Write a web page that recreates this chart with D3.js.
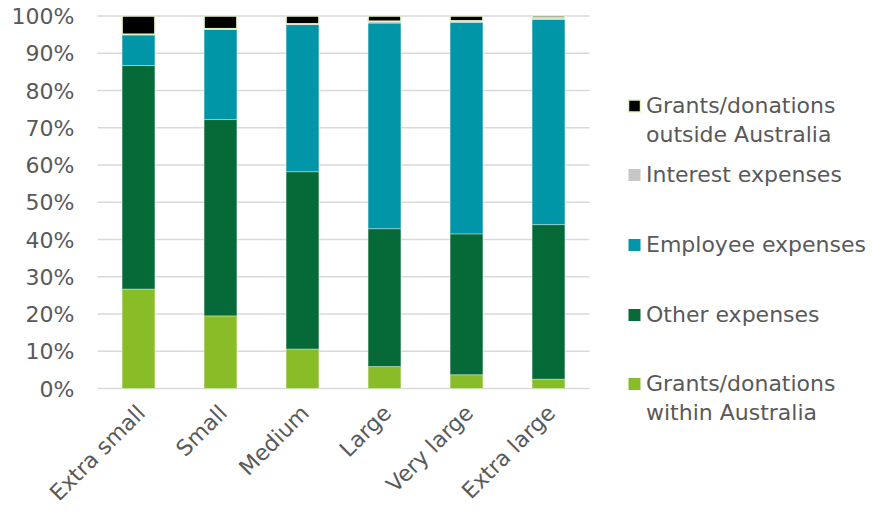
<!DOCTYPE html>
<html>
<head>
<meta charset="utf-8">
<script src="https://cdn.jsdelivr.net/npm/d3@7"></script>
<style>
  html, body { margin: 0; padding: 0; background: #ffffff; }
  svg { display: block; }
  text { font-family: "DejaVu Sans", Verdana, sans-serif; fill: #595959; }
</style>
</head>
<body>
<svg id="chart" width="872" height="512"></svg>
<script>
// Share of total expenses by charity size (percent)
const categories = ["Extra small", "Small", "Medium", "Large", "Very large", "Extra large"];
const grantsWithin  = [26.7, 19.5, 10.6, 5.9, 3.7, 2.5];
const otherExp      = [60.0, 52.7, 47.6, 37.0, 37.8, 41.5];
const employeeExp   = [8.2, 24.2, 39.5, 55.2, 56.8, 55.1];
const interestExp   = [0.2, 0.2, 0.2, 0.5, 0.4, 0.4];
const grantsOutside = [4.9, 3.4, 2.1, 1.4, 1.3, 0.5];
const yTicks = [0, 10, 20, 30, 40, 50, 60, 70, 80, 90, 100];

const seriesNames = [
  "Grants/donations within Australia",
  "Other expenses",
  "Employee expenses",
  "Interest expenses",
  "Grants/donations outside Australia"
];
const seriesValues = [grantsWithin, otherExp, employeeExp, interestExp, grantsOutside];
const colors = ["#89bd28", "#056a38", "#0096a8", "#c6c7c9", "#000000"];
const strokes = ["rgba(255,255,255,0.35)", "rgba(255,255,255,0.35)", "rgba(255,255,255,0.35)", "rgba(255,255,255,0.35)", "#e6f2c8"];

const rows = categories.map((c, i) => {
  const r = { category: c };
  seriesNames.forEach((s, k) => { r[s] = seriesValues[k][i]; });
  return r;
});
const stacked = d3.stack().keys(seriesNames)(rows);

const svg = d3.select("#chart");
const plot = { left: 97.5, right: 589.5, top: 16, bottom: 388.5 };
const fontSize = "22px";

const x = d3.scaleBand().domain(categories).range([plot.left, plot.right]).paddingInner(0.6).paddingOuter(0.3);
const y = d3.scaleLinear().domain([0, 100]).range([plot.bottom, plot.top]);

// gridlines
svg.append("g")
  .selectAll("line")
  .data(yTicks)
  .join("line")
  .attr("x1", plot.left)
  .attr("x2", plot.right)
  .attr("y1", d => y(d))
  .attr("y2", d => y(d))
  .attr("stroke", "#d9d9d9")
  .attr("stroke-width", 1.5);

// y axis labels
const yAxis = svg.append("g")
  .attr("transform", `translate(${plot.left},0)`)
  .call(d3.axisLeft(y).tickValues(yTicks).tickFormat(d => d + "%").tickSize(0).tickPadding(23));
yAxis.select(".domain").remove();
yAxis.selectAll("text")
  .style("font-size", fontSize)
  .style("font-family", "'DejaVu Sans', Verdana, sans-serif")
  .attr("fill", "#595959")
  .attr("dy", "0.35em");

// stacked bars
svg.append("g")
  .selectAll("g")
  .data(stacked)
  .join("g")
  .attr("fill", (d, i) => colors[i])
  .attr("stroke", (d, i) => strokes[i])
  .attr("stroke-width", (d, i) => i === 4 ? 1.5 : 1)
  .selectAll("rect")
  .data(d => d)
  .join("rect")
  .attr("x", d => x(d.data.category))
  .attr("width", x.bandwidth())
  .attr("y", d => y(d[1]))
  .attr("height", d => y(d[0]) - y(d[1]));

// x axis labels, rotated
const xAxis = svg.append("g")
  .attr("transform", `translate(0,${plot.bottom})`)
  .call(d3.axisBottom(x).tickSize(0).tickPadding(0));
xAxis.select(".domain").remove();
xAxis.selectAll("text")
  .style("font-size", fontSize)
  .style("font-family", "'DejaVu Sans', Verdana, sans-serif")
  .attr("fill", "#595959")
  .attr("text-anchor", "end")
  .attr("dy", null)
  .attr("y", 0)
  .attr("transform", "translate(8,26) rotate(-45)");

// legend
const legendItems = [
  { name: ["Grants/donations", "outside Australia"], color: colors[4], stroke: strokes[4], y: 106 },
  { name: ["Interest expenses"], color: colors[3], stroke: "none", y: 175 },
  { name: ["Employee expenses"], color: colors[2], stroke: "none", y: 245 },
  { name: ["Other expenses"], color: colors[1], stroke: "none", y: 315 },
  { name: ["Grants/donations", "within Australia"], color: colors[0], stroke: "none", y: 384 }
];
const legend = svg.append("g");
const li = legend.selectAll("g").data(legendItems).join("g")
  .attr("transform", d => `translate(628,${d.y})`);
li.append("rect")
  .attr("x", 0.5).attr("y", -6)
  .attr("width", 12).attr("height", 12)
  .attr("fill", d => d.color)
  .attr("stroke", d => d.stroke)
  .attr("stroke-width", 1.5);
li.append("text")
  .style("font-size", fontSize)
  .selectAll("tspan")
  .data(d => d.name)
  .join("tspan")
  .attr("x", 18)
  .attr("y", (d, i) => 7 + i * 28.5)
  .text(d => d);
</script>
</body>
</html>
